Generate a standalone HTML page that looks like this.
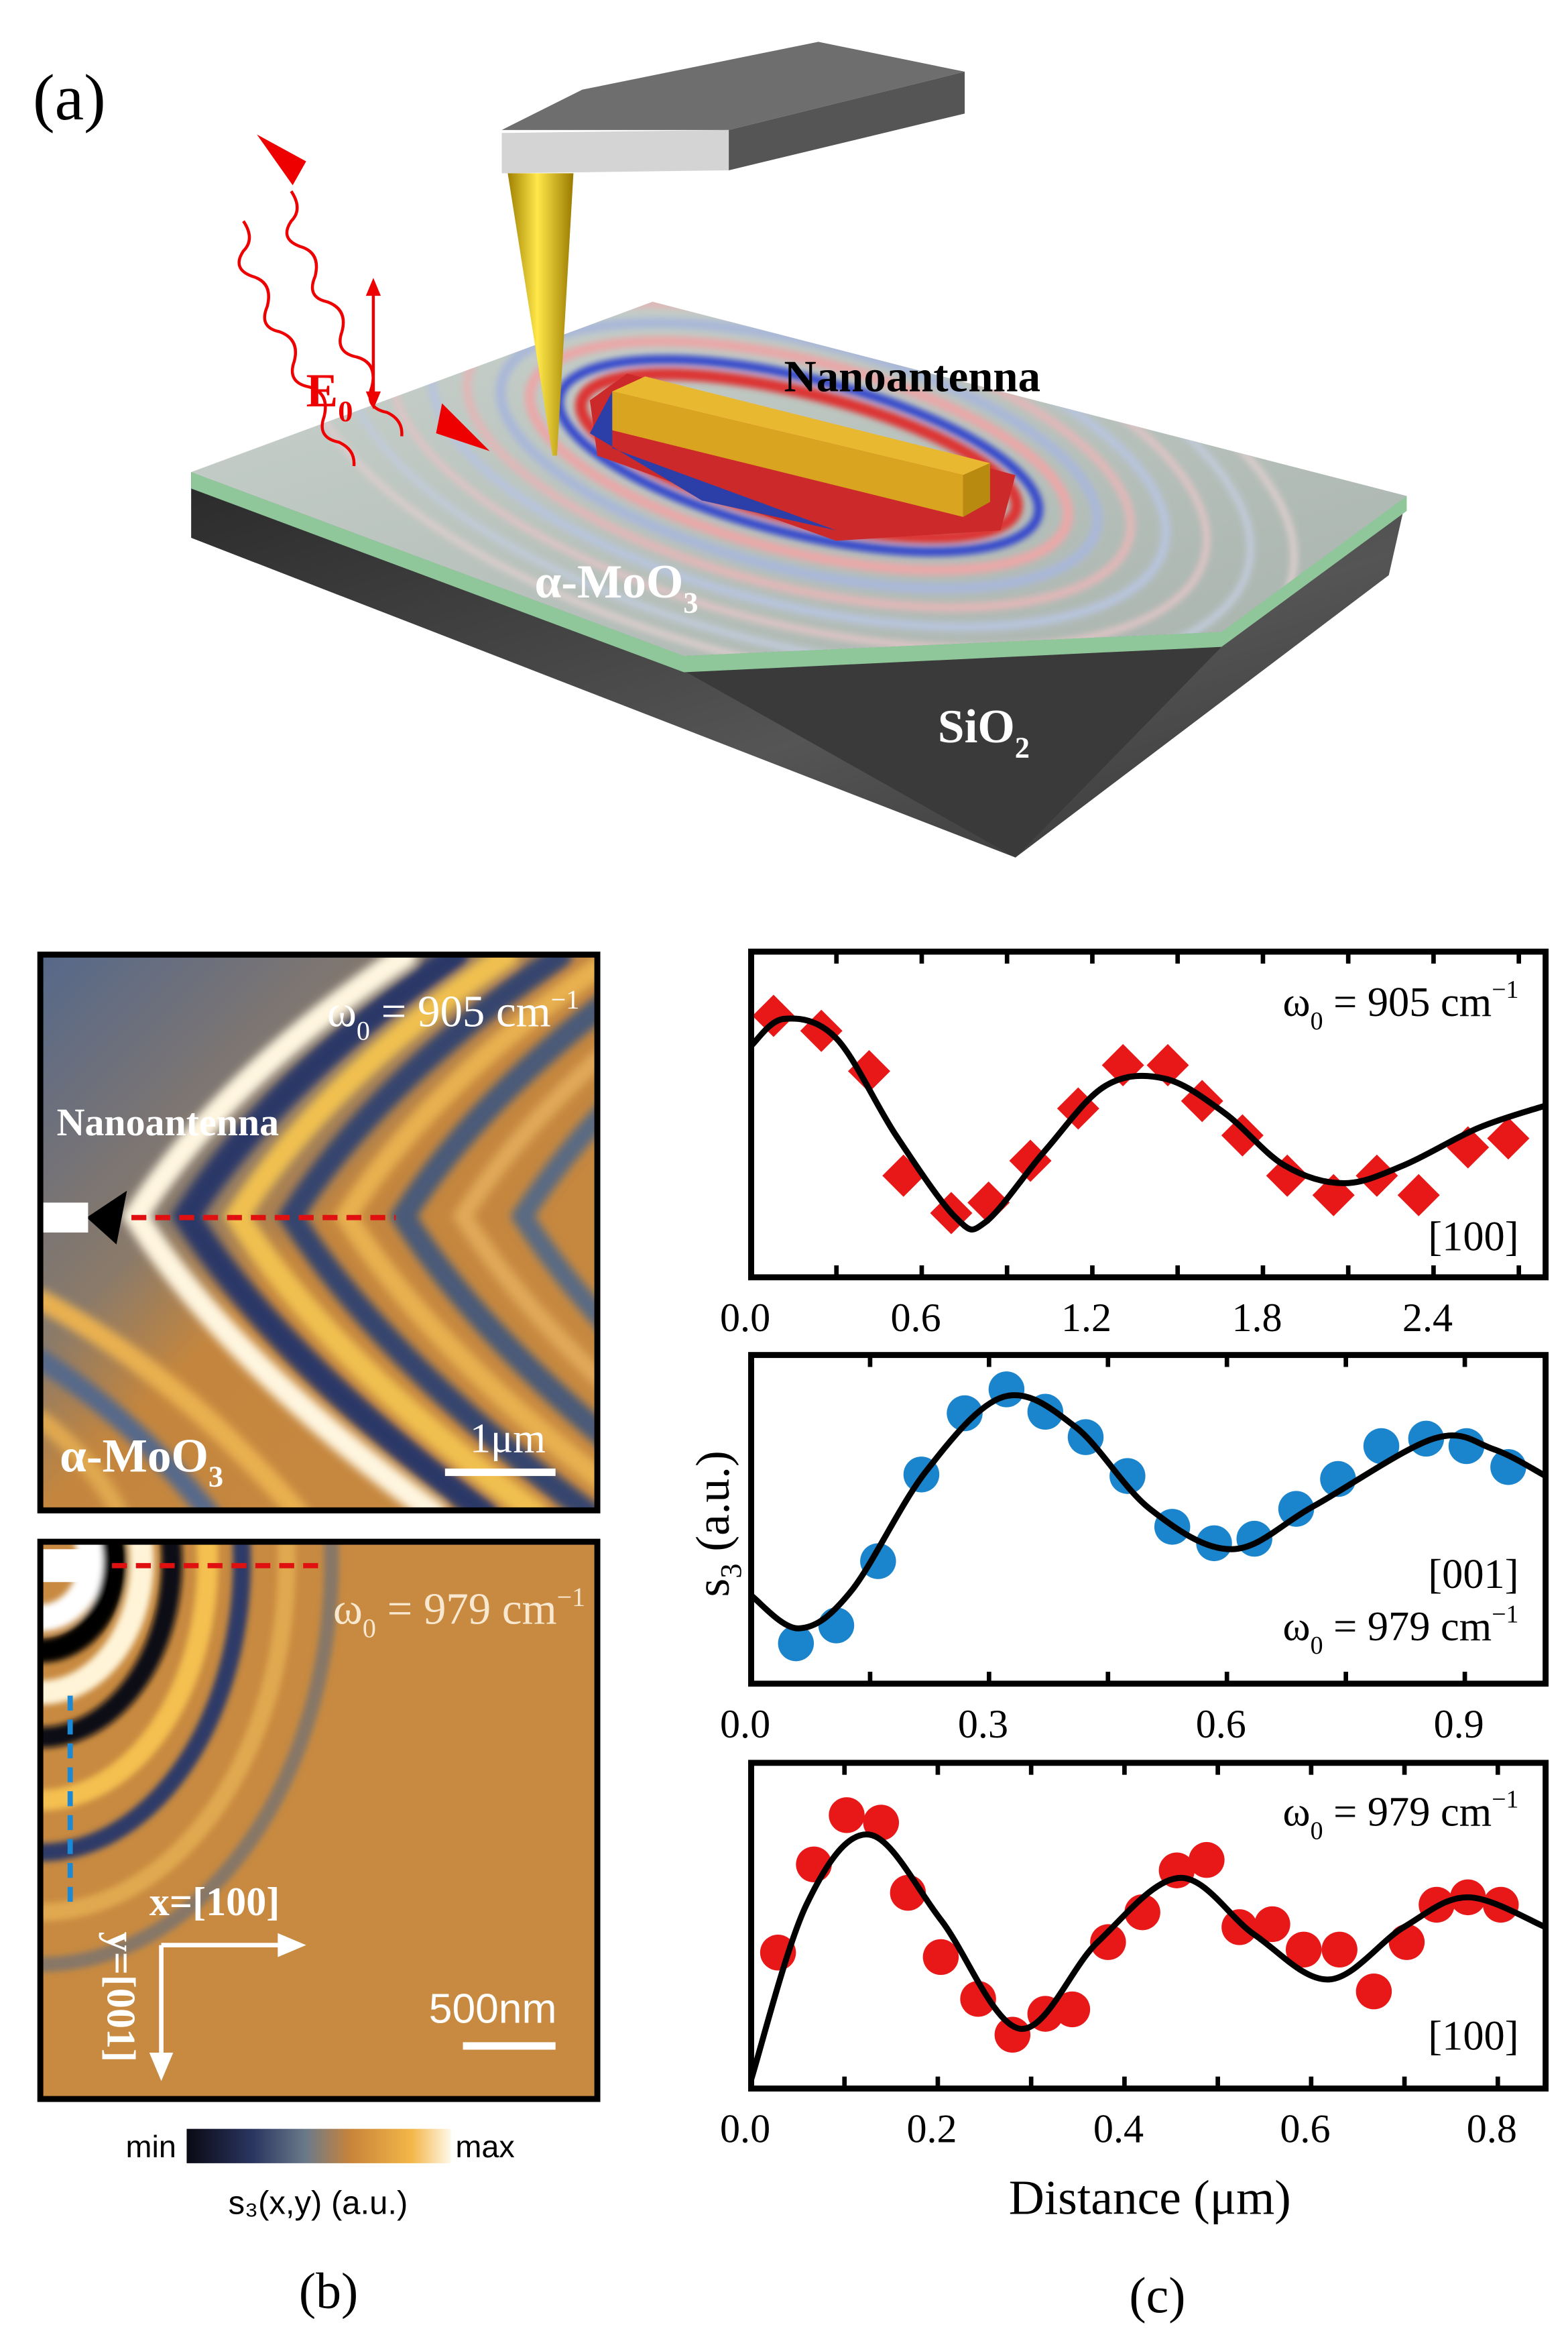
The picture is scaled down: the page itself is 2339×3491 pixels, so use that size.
<!DOCTYPE html>
<html><head><meta charset="utf-8"><style>
html,body{margin:0;padding:0;background:#fff;}
svg{display:block;}
</style></head><body>
<svg id="s" width="2339" height="3491" viewBox="0 0 1050 1567" preserveAspectRatio="none" xmlns="http://www.w3.org/2000/svg" font-family="'Liberation Serif', serif">
<defs>
<linearGradient id="cb" x1="0" x2="1" y1="0" y2="0">
<stop offset="0" stop-color="#0a0a14"/><stop offset="0.25" stop-color="#2a3560"/><stop offset="0.45" stop-color="#6a7a8a"/><stop offset="0.62" stop-color="#c8843a"/><stop offset="0.85" stop-color="#f3b648"/><stop offset="1" stop-color="#fff8e8"/>
</linearGradient>
<linearGradient id="tip" x1="0" x2="1"><stop offset="0" stop-color="#a08000"/><stop offset="0.45" stop-color="#ffe84a"/><stop offset="1" stop-color="#9a7a00"/></linearGradient>
<linearGradient id="surf" x1="0" y1="0" x2="1" y2="1"><stop offset="0" stop-color="#c9d2cc"/><stop offset="1" stop-color="#a9b3ae"/></linearGradient>
<linearGradient id="blk" x1="0" y1="0" x2="1" y2="1"><stop offset="0" stop-color="#2a2a2a"/><stop offset="0.6" stop-color="#555"/><stop offset="1" stop-color="#333"/></linearGradient>
<linearGradient id="bgb" x1="0" y1="0" x2="1" y2="1"><stop offset="0" stop-color="#55688a"/><stop offset="0.35" stop-color="#8a7a6a"/><stop offset="0.5" stop-color="#c4863e"/><stop offset="1" stop-color="#c88a40"/></linearGradient>
<clipPath id="c1"><rect x="27" y="639" width="373" height="372"/></clipPath>
<clipPath id="c2"><rect x="27" y="1032" width="373" height="373"/></clipPath>
<clipPath id="surfclip"><polygon points="128,316 437,202 942,332 818,423 458,439"/></clipPath>
<filter id="bl"><feGaussianBlur stdDeviation="3"/></filter>
<filter id="bl2"><feGaussianBlur stdDeviation="2"/></filter>
</defs>

<text x="22" y="80" font-size="44">(a)</text>
<!-- slab -->
<polygon points="128,316 128,360 680,574 930,385 942,332 818,423 458,439" fill="url(#blk)"/>
<polygon points="458,449 818,433 680,574" fill="#3a3a3a"/>
<polygon points="128,316 458,439 818,423 942,332 942,342 818,433 458,450 128,327" fill="#8fc79a"/>
<polygon points="128,316 437,202 942,332 818,423 458,439" fill="url(#surf)"/>
<g clip-path="url(#surfclip)" filter="url(#bl2)" fill="none">
<ellipse cx="535" cy="305" rx="150" ry="42" transform="rotate(14 535 305)" stroke="#d33" stroke-width="8"/>
<ellipse cx="535" cy="305" rx="165" ry="52" transform="rotate(14 535 305)" stroke="#34c" stroke-width="6"/>
<ellipse cx="535" cy="305" rx="185" ry="64" transform="rotate(14 535 305)" stroke="#e9a8a8" stroke-width="7"/>
<ellipse cx="535" cy="305" rx="205" ry="76" transform="rotate(14 535 305)" stroke="#aab8d8" stroke-width="7"/>
<ellipse cx="535" cy="305" rx="228" ry="88" transform="rotate(14 535 305)" stroke="#e0b8b8" stroke-width="6"/>
<ellipse cx="535" cy="305" rx="252" ry="100" transform="rotate(14 535 305)" stroke="#b8c4dc" stroke-width="6"/>
<ellipse cx="535" cy="305" rx="280" ry="113" transform="rotate(14 535 305)" stroke="#dcc4c4" stroke-width="5"/>
<ellipse cx="535" cy="305" rx="310" ry="127" transform="rotate(14 535 305)" stroke="#c0cad8" stroke-width="5"/>
<ellipse cx="535" cy="305" rx="340" ry="140" transform="rotate(14 535 305)" stroke="#d8cccc" stroke-width="5"/>
</g>
<polygon points="395,268 420,250 680,318 670,355 560,362 400,305" fill="#cc2a2a"/>
<polygon points="395,290 410,262 410,300 560,355 470,335" fill="#2c3ea8"/>
<!-- antenna -->
<polygon points="410,262 432,252 663,310 645,318" fill="#e8b830"/>
<polygon points="410,262 645,318 645,346 410,288" fill="#d9a520"/>
<polygon points="645,318 663,310 663,336 645,346" fill="#b88a10"/>
<!-- cantilever & tip -->
<polygon points="336,87 390,60 548,28 646,48 488,87" fill="#6e6e6e"/>
<polygon points="488,87 646,48 646,76 488,114" fill="#555"/>
<polygon points="336,89 488,87 488,114 336,116" fill="#d4d4d4"/>
<polygon points="340,116 384,116 373,305 370,305" fill="url(#tip)"/>
<!-- waves -->
<g fill="none" stroke="#e00" stroke-width="2">
<path d="M163,148 q8,12 0,20 q-8,12 6,17 q14,4 10,20 q-6,14 8,17 q14,5 10,20 q-5,14 10,17 q14,4 10,20 q-5,14 10,17 q11,5 10,16"/>
<path d="M195,128 q8,12 0,20 q-8,12 6,17 q14,4 10,20 q-6,14 8,17 q14,5 10,20 q-5,14 10,17 q14,4 10,20 q-5,14 10,17 q11,5 10,16"/>
<line x1="250" y1="192" x2="250" y2="268"/>
</g>
<polygon points="172,90 205,108 196,124" fill="#e00"/>
<polygon points="296,270 328,302 292,290" fill="#e00"/>
<polygon points="250,186 245,198 255,198" fill="#e00"/>
<polygon points="250,274 245,262 255,262" fill="#e00"/>
<text x="205" y="272" font-size="32" fill="#e00" font-weight="bold">E<tspan font-size="20" dy="10">0</tspan></text>
<text x="525" y="262" font-size="30" font-weight="bold">Nanoantenna</text>
<text x="358" y="400" font-size="32" fill="#fff" font-weight="bold">α-MoO<tspan font-size="20" dy="10">3</tspan></text>
<text x="628" y="497" font-size="32" fill="#fff" font-weight="bold">SiO<tspan font-size="20" dy="10">2</tspan></text>

<!-- panel b top -->
<g clip-path="url(#c1)">
<rect x="27" y="639" width="373" height="372" fill="url(#bgb)"/>
<g filter="url(#bl)" fill="none" stroke-linecap="round">
<path d="M271,640 Q151,720 91,814 Q151,910 291,1013" stroke="#fff6e0" stroke-width="16"/>
<path d="M305,640 Q185,720 125,814 Q185,910 325,1013" stroke="#2c3868" stroke-width="18"/>
<path d="M339,640 Q219,720 159,814 Q219,910 359,1013" stroke="#f0c050" stroke-width="16"/>
<path d="M375,640 Q255,720 195,814 Q255,910 395,1013" stroke="#34456e" stroke-width="16"/>
<path d="M412,640 Q292,720 232,814 Q292,910 432,1013" stroke="#e8b050" stroke-width="14"/>
<path d="M450,640 Q330,720 270,814 Q330,910 470,1013" stroke="#4a5a78" stroke-width="16"/>
<path d="M490,640 Q370,720 310,814 Q370,910 510,1013" stroke="#e0a858" stroke-width="12"/>
<path d="M530,640 Q410,720 350,814 Q410,910 550,1013" stroke="#5a6a82" stroke-width="14"/>
<path d="M27,870 Q120,920 200,1013" stroke="#e9b050" stroke-width="14"/>
<path d="M27,910 Q90,950 140,1013" stroke="#56698a" stroke-width="14"/>
<path d="M27,950 Q60,975 80,1013" stroke="#e0a850" stroke-width="12"/>
</g>
<polygon points="58,815 85,797 78,833" fill="#000"/>
<rect x="27" y="805" width="32" height="20" fill="#fff"/>
<line x1="88" y1="815" x2="265" y2="815" stroke="#e01010" stroke-width="3.5" stroke-dasharray="10,6"/>
<text x="388" y="687" font-size="30" fill="#fff" text-anchor="end">ω<tspan font-size="18" dy="9">0</tspan><tspan dy="-9"> = 905 cm</tspan><tspan font-size="18" dy="-12">−1</tspan></text>
<text x="38" y="760" font-size="26" fill="#fff" font-weight="bold">Nanoantenna</text>
<text x="40" y="985" font-size="32" fill="#fff" font-weight="bold">α-MoO<tspan font-size="20" dy="10">3</tspan></text>
<text x="340" y="972" font-size="28" fill="#fff" text-anchor="middle">1μm</text>
<rect x="298" y="983" width="74" height="5" fill="#fff"/>
</g>
<rect x="27" y="639" width="373" height="372" fill="none" stroke="#000" stroke-width="4"/>

<!-- panel b bottom -->
<g clip-path="url(#c2)">
<rect x="27" y="1032" width="373" height="373" fill="#c88a40"/>
<g fill="none" filter="url(#bl2)">
<ellipse cx="27" cy="1045" rx="34" ry="38" stroke="#fff" stroke-width="18"/>
<ellipse cx="27" cy="1045" rx="50" ry="60" stroke="#000" stroke-width="16"/>
<ellipse cx="27" cy="1045" rx="68" ry="88" stroke="#fff4d8" stroke-width="16"/>
<ellipse cx="27" cy="1045" rx="88" ry="118" stroke="#0c0c18" stroke-width="14"/>
<ellipse cx="27" cy="1045" rx="112" ry="160" stroke="#f4c050" stroke-width="14"/>
<ellipse cx="27" cy="1045" rx="135" ry="195" stroke="#2e3a68" stroke-width="12"/>
<ellipse cx="27" cy="1045" rx="165" ry="235" stroke="#e0a850" stroke-width="12"/>
<ellipse cx="27" cy="1045" rx="195" ry="270" stroke="#5a6a82" stroke-width="10" opacity="0.6"/>
</g>
<rect x="27" y="1037" width="36" height="22" fill="#fff"/>
<line x1="75" y1="1048" x2="218" y2="1048" stroke="#e01010" stroke-width="3.5" stroke-dasharray="10,6"/>
<line x1="47" y1="1135" x2="47" y2="1278" stroke="#1a8ad8" stroke-width="3.5" stroke-dasharray="10,6"/>
<text x="392" y="1087" font-size="30" fill="#f8e8d0" text-anchor="end">ω<tspan font-size="18" dy="9">0</tspan><tspan dy="-9"> = 979 cm</tspan><tspan font-size="18" dy="-12">−1</tspan></text>
<text x="100" y="1282" font-size="27" fill="#fff" font-weight="bold">x=[100]</text>
<line x1="108" y1="1302" x2="190" y2="1302" stroke="#fff" stroke-width="3"/>
<polygon points="205,1302 186,1294 186,1310" fill="#fff"/>
<line x1="108" y1="1302" x2="108" y2="1378" stroke="#fff" stroke-width="3"/>
<polygon points="108,1393 100,1374 116,1374" fill="#fff"/>
<text x="0" y="0" font-size="27" fill="#fff" font-weight="bold" transform="translate(72,1293) rotate(90)">y=[001]</text>
<text x="330" y="1354" font-size="28" fill="#fff" text-anchor="middle" font-family="'Liberation Sans', sans-serif">500nm</text>
<rect x="310" y="1367" width="62" height="5" fill="#fff"/>
</g>
<rect x="27" y="1032" width="373" height="373" fill="none" stroke="#000" stroke-width="4"/>

<rect x="125" y="1425" width="177" height="23" fill="url(#cb)"/>
<text x="118" y="1444" font-size="21" text-anchor="end" font-family="'Liberation Sans', sans-serif">min</text>
<text x="305" y="1444" font-size="21" font-family="'Liberation Sans', sans-serif">max</text>
<text x="213" y="1482" font-size="22" text-anchor="middle" font-family="'Liberation Sans', sans-serif">s₃(x,y) (a.u.)</text>
<text x="220" y="1545" font-size="34" text-anchor="middle">(b)</text>
<text x="775" y="1548" font-size="34" text-anchor="middle">(c)</text>

<g id="plots"></g>
<text x="0" y="0" font-size="32" transform="translate(488,1020) rotate(-90)" text-anchor="middle">s<tspan font-size="20" dy="8">3</tspan><tspan dy="-8"> (a.u.)</tspan></text>
<text x="770" y="1482" font-size="33" text-anchor="middle">Distance (μm)</text>
<text x="1017" y="680" font-size="28" text-anchor="end">ω<tspan font-size="17" dy="9">0</tspan><tspan dy="-9"> = 905 cm</tspan><tspan font-size="17" dy="-12">−1</tspan></text>
<text x="1017" y="837" font-size="28" text-anchor="end">[100]</text>
<text x="1017" y="1063" font-size="28" text-anchor="end">[001]</text>
<text x="1017" y="1098" font-size="28" text-anchor="end">ω<tspan font-size="17" dy="9">0</tspan><tspan dy="-9"> = 979 cm</tspan><tspan font-size="17" dy="-12">−1</tspan></text>
<text x="1017" y="1222" font-size="28" text-anchor="end">ω<tspan font-size="17" dy="9">0</tspan><tspan dy="-9"> = 979 cm</tspan><tspan font-size="17" dy="-12">−1</tspan></text>
<text x="1017" y="1372" font-size="28" text-anchor="end">[100]</text>
</svg>
<script>
var NS="http://www.w3.org/2000/svg",g=document.getElementById("plots");
function el(t,a){var e=document.createElementNS(NS,t);for(var k in a)e.setAttribute(k,a[k]);g.appendChild(e);return e;}
function cr(p){var d="M"+p[0][0]+","+p[0][1];for(var i=0;i<p.length-1;i++){var p0=p[i-1]||p[i],p1=p[i],p2=p[i+1],p3=p[i+2]||p2;
d+=" C"+(p1[0]+(p2[0]-p0[0])/6)+","+(p1[1]+(p2[1]-p0[1])/6)+" "+(p2[0]-(p3[0]-p1[0])/6)+","+(p2[1]-(p3[1]-p1[1])/6)+" "+p2[0]+","+p2[1];}return d;}
function plot(y0,y1,x0,ppu,step,lstep,ldec,maxv,curve,pts,col,shape){
 var X0=503,X1=1035;
 pts.forEach(function(p){ if(shape=="d") el("rect",{x:p[0]-10,y:p[1]-10,width:20,height:20,fill:col,transform:"rotate(45 "+p[0]+" "+p[1]+")"}); else el("circle",{cx:p[0],cy:p[1],r:12,fill:col});});
 el("path",{d:cr(curve),fill:"none",stroke:"#000","stroke-width":4});
 el("rect",{x:X0,y:y0,width:X1-X0,height:y1-y0,fill:"none",stroke:"#000","stroke-width":4});
 for(var v=0;v<=maxv+1e-9;v+=step){var x=X0+v*ppu; el("line",{x1:x,x2:x,y1:y1,y2:y1-8,stroke:"#000","stroke-width":3}); el("line",{x1:x,x2:x,y1:y0,y2:y0+8,stroke:"#000","stroke-width":3});}
 for(var v=0;v<=maxv+1e-9;v+=lstep){var x=X0+v*ppu; var t=el("text",{x:x-4,y:y1+36,"font-size":27,"text-anchor":"middle"}); t.textContent=v.toFixed(1);}
}
plot(637,855,0,190.4,0.3,0.6,1,2.75,
 [[503,700],[525,682],[560,695],[600,760],[640,815],[660,818],[700,770],[740,727],[780,722],[820,745],[860,780],[900,792],[940,780],[990,755],[1035,740]],
 [[518,680],[550,690],[582,717],[605,787],[637,812],[662,805],[690,777],[722,742],[752,713],[782,713],[805,737],[832,760],[862,787],[893,800],[922,787],[950,800],[983,768],[1010,762]],"#e81818","d");
plot(907,1127,0,531,0.15,0.3,1,0.99,
 [[503,1068],[535,1090],[570,1065],[620,985],[672,935],[720,955],[770,1010],[825,1037],[880,1008],[960,963],[1000,970],[1035,988]],
 [[533,1100],[560,1088],[588,1045],[617,987],[646,946],[674,930],[700,945],[727,962],[755,988],[785,1022],[813,1033],[840,1030],[868,1010],[896,990],[925,968],[955,963],[982,968],[1010,982]],"#1a84cc","c");
plot(1180,1398,0,625,0.1,0.2,1,0.85,
 [[503,1392],[540,1275],[582,1228],[630,1285],[683,1358],[735,1300],[790,1257],[840,1295],[890,1325],[940,1290],[983,1270],[1035,1290]],
 [[521,1307],[545,1248],[567,1215],[590,1220],[608,1267],[630,1310],[655,1338],[678,1362],[700,1348],[718,1345],[742,1300],[765,1280],[788,1252],[808,1245],[830,1290],[852,1288],[873,1305],[897,1305],[920,1333],[942,1300],[962,1275],[983,1270],[1005,1275]],"#e81818","c");
</script>
</body></html>
